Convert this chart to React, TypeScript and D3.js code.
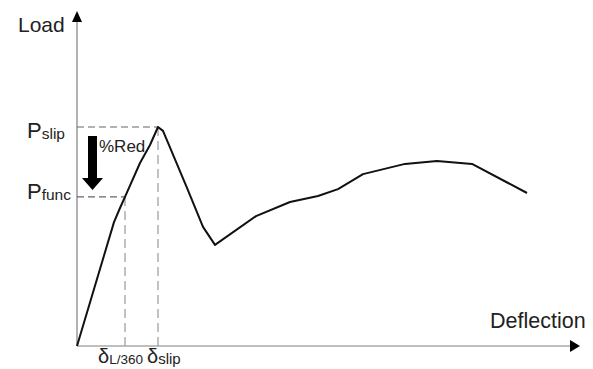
import React, { useEffect, useRef } from "react";
import * as d3 from "d3";

// load-deflection curve (arbitrary units)
const deflection = [0, 7.4, 8.6, 9.6, 12.6, 14.6, 16.2, 17.2, 22, 25.2, 27.6, 35.8, 42.6, 48.2, 52.2, 57.2, 65.6, 72, 79, 90];
const load = [0, 41.3, 46, 49.7, 61, 67, 73, 71.7, 52.7, 39.7, 33.7, 43.3, 48, 50, 52.3, 57.3, 60.7, 61.7, 60.7, 51];

const pSlip = 73;
const pFunc = 49.7;
const dL360 = 9.6;
const dSlip = 16.2;

const W = 593;
const H = 369;
const font = "'Liberation Sans', Arial, sans-serif";

const App = () => {
  const svgRef = useRef<SVGSVGElement | null>(null);

  useEffect(() => {
    const svg = d3.select(svgRef.current);
    svg.selectAll("*").remove();

    const x = d3.scaleLinear().domain([0, 100]).range([77, 577]);
    const y = d3.scaleLinear().domain([0, 100]).range([346, 46]);
    const x0 = x(0);
    const y0 = y(0);

    // axes
    svg.append("line")
      .attr("x1", x0).attr("y1", y0).attr("x2", x0).attr("y2", 20)
      .attr("stroke", "#808080").attr("stroke-width", 1.2);
    svg.append("path")
      .attr("d", `M${x0},11 L${x0 - 5},22 L${x0 + 5},22 Z`)
      .attr("fill", "#000");
    svg.append("line")
      .attr("x1", x0).attr("y1", y0).attr("x2", 572).attr("y2", y0)
      .attr("stroke", "#808080").attr("stroke-width", 1.2);
    svg.append("path")
      .attr("d", `M580,${y0} L570,${y0 - 6} L570,${y0 + 6} Z`)
      .attr("fill", "#000");

    // dashed guides
    const dash = (x1: number, y1: number, x2: number, y2: number, pattern: string, colour: string) =>
      svg.append("line")
        .attr("x1", x1).attr("y1", y1).attr("x2", x2).attr("y2", y2)
        .attr("stroke", colour).attr("stroke-width", 1.2)
        .attr("stroke-dasharray", pattern);
    dash(x0, y(pSlip), x(dSlip), y(pSlip), "7,4", "#666");
    dash(x(dSlip), y0, x(dSlip), y(pSlip), "9,5", "#999");
    dash(x0, y(pFunc), x(dL360), y(pFunc), "7,4", "#666");
    dash(x(dL360), y0, x(dL360), y(pFunc), "9,5", "#999");

    // curve
    const pts = deflection.map((d, i) => [d, load[i]] as [number, number]);
    const line = d3.line<[number, number]>().x((d) => x(d[0])).y((d) => y(d[1]));
    svg.append("path")
      .attr("d", line(pts))
      .attr("fill", "none")
      .attr("stroke", "#111")
      .attr("stroke-width", 2)
      .attr("stroke-linejoin", "round");

    // %Red arrow
    const top = y(pSlip) + 9;
    const tip = y(pFunc) - 7;
    svg.append("path")
      .attr("d", `M88,${top} L97,${top} L97,${tip - 12} L103,${tip - 12} L92.5,${tip} L82,${tip - 12} L88,${tip - 12} Z`)
      .attr("fill", "#000");
    svg.append("text")
      .attr("x", 99).attr("y", 152)
      .attr("font-family", font).attr("font-size", 17).attr("fill", "#222")
      .text("%Red");

    // axis titles
    svg.append("text")
      .attr("x", 18).attr("y", 32)
      .attr("font-family", font).attr("font-size", 21).attr("fill", "#222")
      .text("Load");
    svg.append("text")
      .attr("x", 490).attr("y", 328)
      .attr("font-family", font).attr("font-size", 21.5).attr("fill", "#222")
      .text("Deflection");

    // P labels
    const pLabel = (sub: string, yy: number) => {
      const t = svg.append("text")
        .attr("x", 27).attr("y", yy)
        .attr("font-family", font).attr("font-size", 22).attr("fill", "#222");
      t.append("tspan").text("P");
      t.append("tspan").attr("font-size", 15.5).attr("dy", 1).text(sub);
    };
    pLabel("slip", y(pSlip) + 11);
    pLabel("func", y(pFunc) + 2);

    // delta labels
    const dLabel = (sub: string, xx: number, subSize: number) => {
      const t = svg.append("text")
        .attr("x", xx).attr("y", 363)
        .attr("font-family", font).attr("font-size", 20).attr("fill", "#222");
      t.append("tspan").text("δ");
      t.append("tspan").attr("font-size", subSize).attr("dy", 1).text(sub);
    };
    dLabel("L/360", x(dL360) - 27, 13.5);
    dLabel("slip", x(dSlip) - 11, 15);
  }, []);

  return (
    <svg
      ref={svgRef}
      width={W}
      height={H}
      viewBox={`0 0 ${W} ${H}`}
      style={{ position: "absolute", left: 0, top: 0, background: "#fff" }}
    />
  );
};

export default App;
